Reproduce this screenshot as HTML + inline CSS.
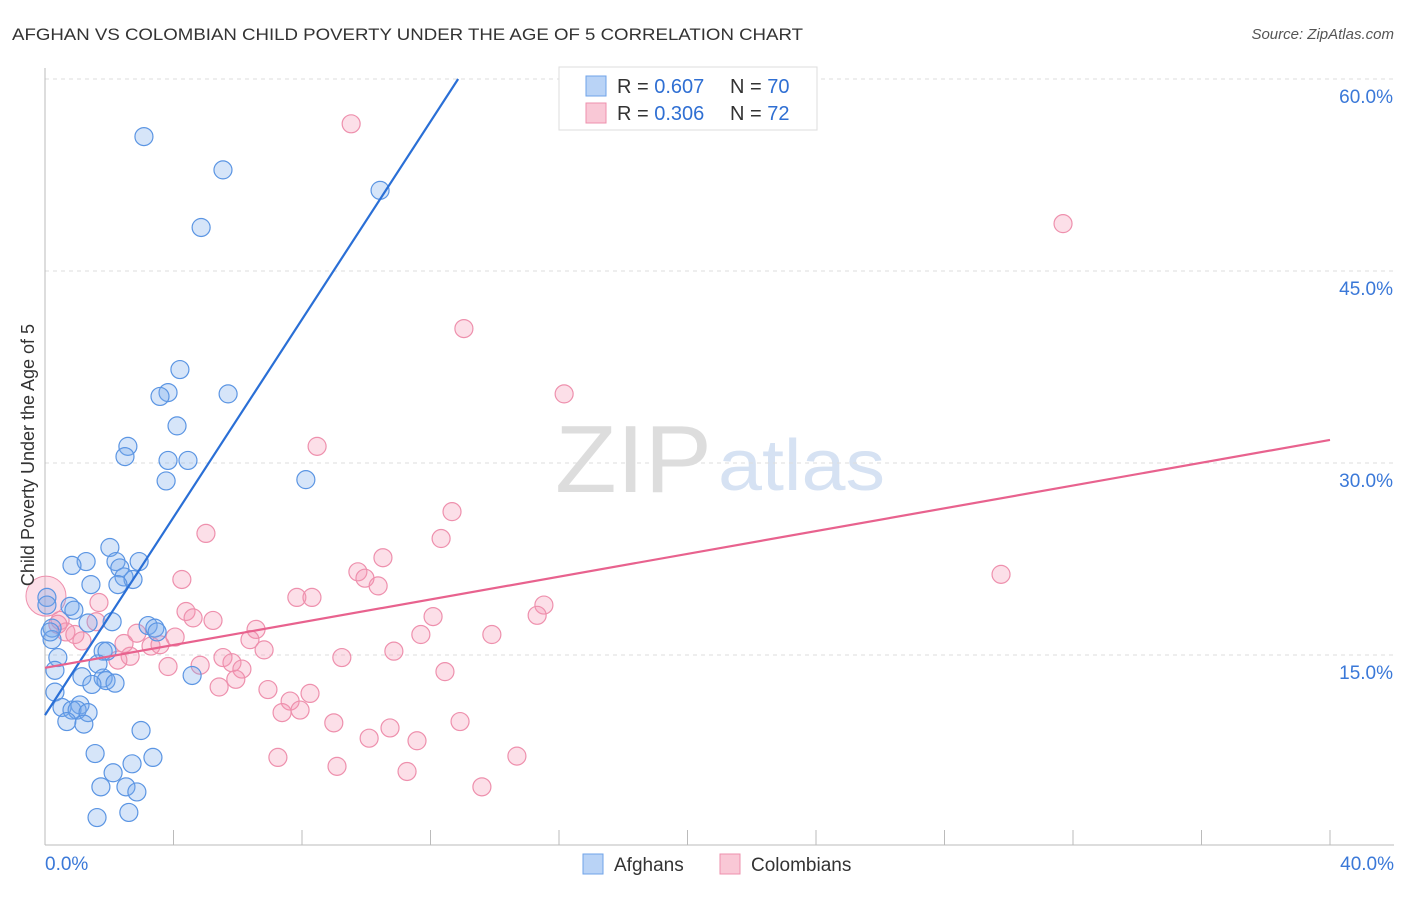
<!DOCTYPE html>
<html><head><meta charset="utf-8">
<style>
body{margin:0;background:#fff;font-family:"Liberation Sans",sans-serif;}
svg text{font-family:"Liberation Sans",sans-serif;}
</style></head>
<body>
<svg id="chart" width="1406" height="892">
<text x="12" y="40" font-size="17" fill="#333" textLength="791" lengthAdjust="spacingAndGlyphs">AFGHAN VS COLOMBIAN CHILD POVERTY UNDER THE AGE OF 5 CORRELATION CHART</text>
<text x="1394" y="39" font-size="15" fill="#555" font-style="italic" text-anchor="end">Source: ZipAtlas.com</text>
<text x="555" y="492" font-size="96" fill="#ddd" textLength="157" lengthAdjust="spacingAndGlyphs" font-family="Liberation Serif,serif">ZIP</text>
<text x="718" y="490" font-size="72" fill="#d6e2f3" textLength="167" lengthAdjust="spacingAndGlyphs">atlas</text>
<g id="grid"></g>
<g id="axes"></g>
<g id="pts"></g>
<g id="lines"></g>
<text transform="translate(34,455) rotate(-90)" font-size="18" fill="#333" text-anchor="middle">Child Poverty Under the Age of 5</text>
<g>
<rect x="559" y="67" width="258" height="63" fill="#fff" stroke="#ddd"/>
<rect x="586" y="76" width="20" height="20" fill="#b9d3f6" stroke="#6fa3e8"/>
<rect x="586" y="103" width="20" height="20" fill="#f9c8d6" stroke="#ee90ad"/>
<text x="617" y="93" font-size="20" fill="#333">R = <tspan fill="#2f6fd3">0.607</tspan></text>
<text x="730" y="93" font-size="20" fill="#333">N = <tspan fill="#2f6fd3">70</tspan></text>
<text x="617" y="120" font-size="20" fill="#333">R = <tspan fill="#2f6fd3">0.306</tspan></text>
<text x="730" y="120" font-size="20" fill="#333">N = <tspan fill="#2f6fd3">72</tspan></text>
</g>
<rect x="583" y="854" width="20" height="20" fill="#b9d3f6" stroke="#6fa3e8"/>
<text x="614" y="871" font-size="19" fill="#333">Afghans</text>
<rect x="720" y="854" width="20" height="20" fill="#f9c8d6" stroke="#ee90ad"/>
<text x="751" y="871" font-size="19" fill="#333">Colombians</text>
</svg>
<script>
const yTicks=[15,30,45,60];
const xTickLabels=["0.0%","40.0%"];
const afghanX=[3.08,5.54,4.86,10.43,4.2,3.83,3.58,5.7,4.11,2.58,2.49,3.83,4.45,3.77,8.12,2.02,1.28,0.84,2.21,2.93,2.33,2.46,2.74,2.27,1.43,0.06,0.78,0.9,1.34,2.09,3.21,3.42,3.49,0.22,0.22,0.4,1.81,1.93,1.65,0.31,1.15,1.81,1.9,2.18,1.46,4.58,0.31,1.09,0.53,0.84,1.0,1.34,0.68,1.21,2.99,1.56,3.36,2.12,2.71,1.74,2.52,2.86,1.62,2.61,0.06,0.16];
const afghanY=[55.5,52.9,48.4,51.3,37.3,35.5,35.2,35.4,32.9,31.3,30.5,30.2,30.2,28.6,28.7,23.4,22.3,22.0,22.3,22.3,21.8,21.1,20.9,20.5,20.5,19.5,18.8,18.5,17.5,17.6,17.3,17.1,16.8,17.1,16.2,14.8,15.3,15.3,14.3,13.8,13.3,13.2,13.0,12.8,12.7,13.4,12.1,11.1,10.9,10.7,10.7,10.5,9.8,9.6,9.1,7.3,7.0,5.8,6.5,4.7,4.7,4.3,2.3,2.7,18.9,16.8];
const colX=[9.53,31.69,13.04,16.16,8.47,12.67,12.33,5.01,10.52,9.74,9.96,10.37,4.26,29.76,7.84,8.31,1.68,4.39,15.53,15.32,12.08,5.23,4.61,1.59,0.47,6.57,11.7,13.91,4.05,2.86,0.65,0.93,1.15,2.46,3.3,3.58,6.38,6.82,10.86,2.65,5.54,2.27,5.82,3.83,4.83,6.13,9.24,12.45,5.94,5.42,6.94,8.25,7.63,7.38,7.94,8.99,12.92,10.74,10.09,11.58,7.25,9.09,11.27,14.69,13.6,0.4];
const colY=[56.5,48.7,40.5,35.4,31.3,26.2,24.1,24.5,22.6,21.5,21.0,20.4,20.9,21.3,19.5,19.5,19.1,18.4,18.9,18.1,18.0,17.7,17.9,17.6,17.7,17.0,16.6,16.6,16.4,16.7,16.8,16.6,16.1,15.9,15.7,15.8,16.2,15.4,15.3,14.9,14.8,14.6,14.4,14.1,14.2,13.9,14.8,13.7,13.1,12.5,12.3,12.0,11.4,10.5,10.7,9.7,9.8,9.3,8.5,8.3,7.0,6.3,5.9,7.1,4.7,17.4];
const afghanLine=[[0,10.3],[12.86,60]];
const colLine=[[0,14.0],[40,31.8]];
const NS="http://www.w3.org/2000/svg";
const X=v=>45+v*32.125, Y=v=>847-v*12.8;
function mk(t,a,p){const e=document.createElementNS(NS,t);for(const k in a)e.setAttribute(k,a[k]);p.appendChild(e);return e;}
const grid=document.getElementById('grid'),axes=document.getElementById('axes'),pts=document.getElementById('pts'),lines=document.getElementById('lines');
yTicks.forEach(t=>{
 const l=mk('line',{x1:45,x2:1394,y1:Y(t),y2:Y(t),stroke:'#ddd','stroke-dasharray':'4,4'},grid);
 
 
 const tx=mk('text',{x:1393,y:Y(t)+24,'font-size':19,fill:'#3a78d8','text-anchor':'end'},grid);
 tx.textContent=t.toFixed(1)+'%';
 
 
});
mk('line',{x1:45,x2:45,y1:68,y2:845,stroke:'#bbb'},axes);
mk('line',{x1:45,x2:1394,y1:845,y2:845,stroke:'#bbb'},axes);
for(let i=0;i<=10;i++){const tk=mk('line',{x1:X(i*4),x2:X(i*4),y1:830,y2:845,stroke:'#bbb'},axes);
 
 }
[[0,'start',45],[1,'end',1394]].forEach(([i,a,x])=>{const t=mk('text',{x:x,y:870,'font-size':19,fill:'#3a78d8','text-anchor':a},axes);t.textContent=xTickLabels[i];
 
 });
colX.forEach((v,i)=>{const c=mk('circle',{cx:X(v),cy:Y(colY[i]),r:9,fill:'rgba(244,150,180,0.3)',stroke:'#ee90ad','stroke-width':1.2},pts);
 
 });
const big=mk('circle',{cx:X(0.03),cy:Y(19.6),r:20,fill:'rgba(244,150,180,0.3)',stroke:'#ee90ad'},pts);


afghanX.forEach((v,i)=>{const c=mk('circle',{cx:X(v),cy:Y(afghanY[i]),r:9,fill:'rgba(120,170,235,0.3)',stroke:'#5b95e3','stroke-width':1.2},pts);
 
 });
const l1=mk('line',{x1:X(afghanLine[0][0]),y1:Y(afghanLine[0][1]),x2:X(afghanLine[1][0]),y2:Y(afghanLine[1][1]),stroke:'#2a6fd6','stroke-width':2.2},lines);


const l2=mk('line',{x1:X(colLine[0][0]),y1:Y(colLine[0][1]),x2:X(colLine[1][0]),y2:Y(colLine[1][1]),stroke:'#e8628e','stroke-width':2.2},lines);


</script>
</body></html>
